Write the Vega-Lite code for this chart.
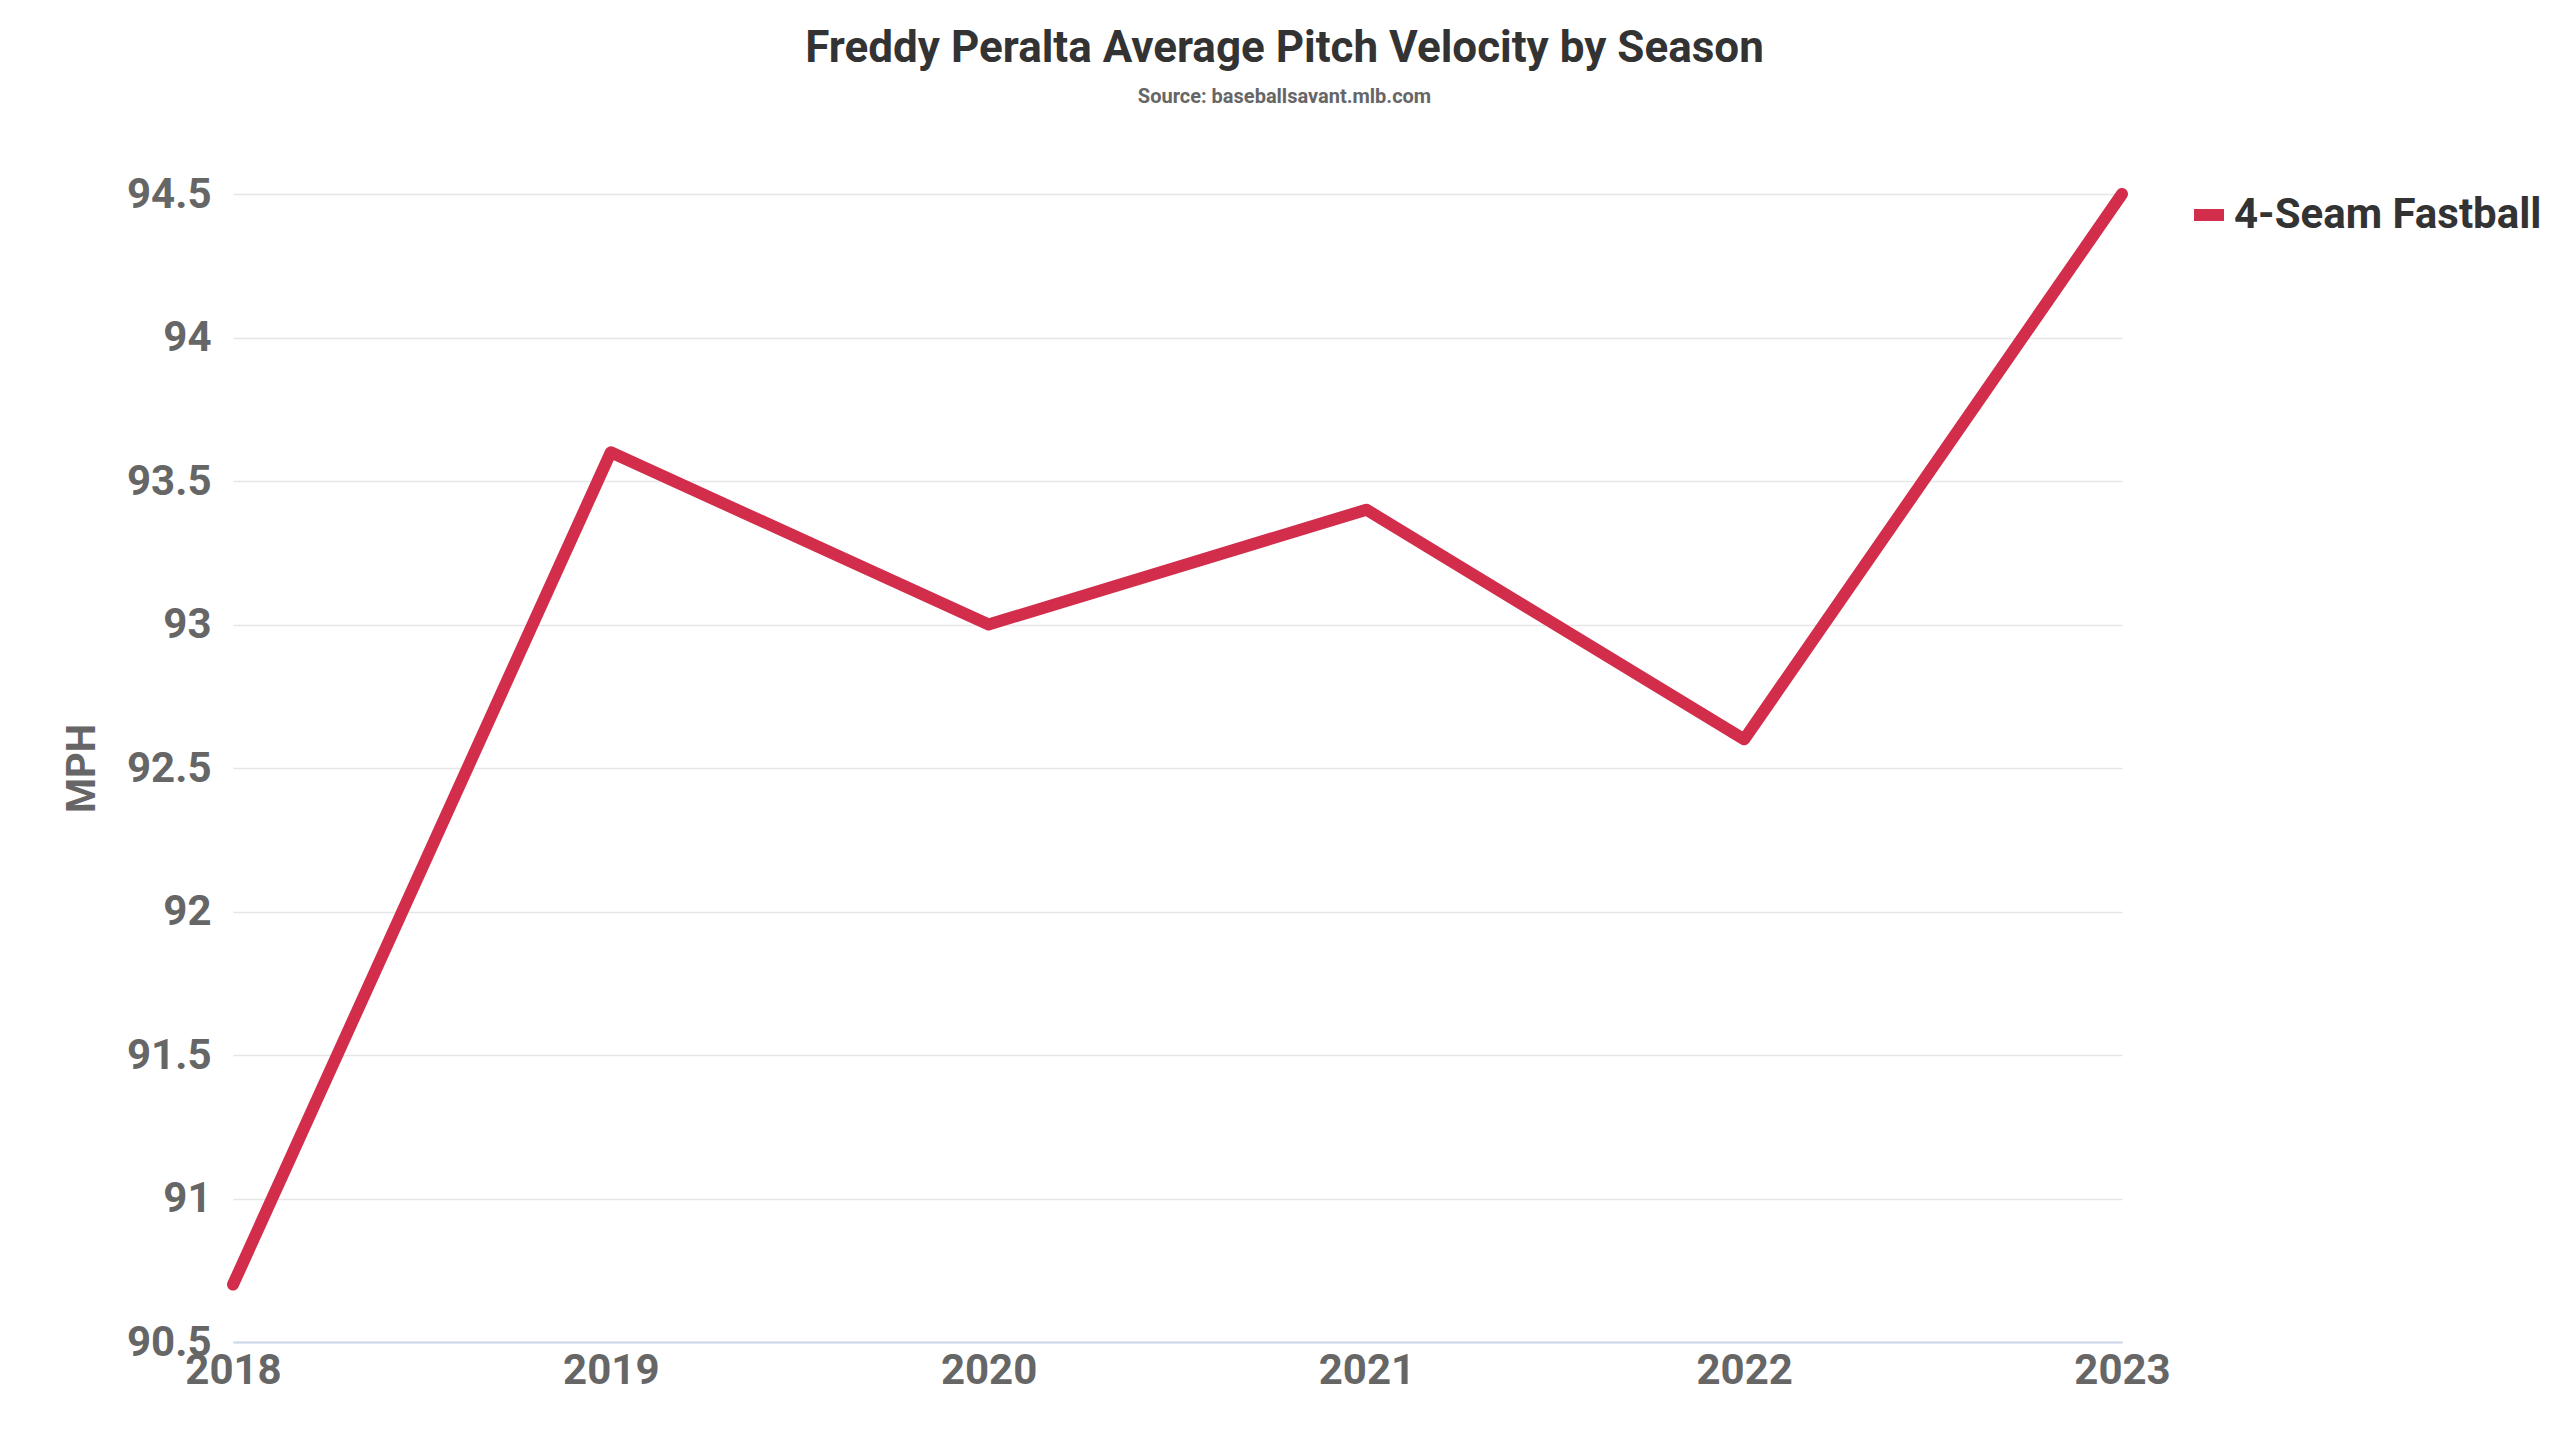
{
  "$schema": "https://vega.github.io/schema/vega-lite/v6.json",
  "autosize": "none",
  "width": 1889,
  "height": 1148,
  "padding": {"left": 233, "top": 194, "right": 438, "bottom": 98},
  "background": "#ffffff",
  "view": {"stroke": null},
  "title": {
    "text": "Freddy Peralta Average Pitch Velocity by Season",
    "subtitle": "Source: baseballsavant.mlb.com",
    "anchor": "middle",
    "dx": 107,
    "offset": 66,
    "font": "Roboto",
    "fontSize": 44,
    "fontWeight": "bold",
    "color": "#333333",
    "subtitleFont": "Roboto",
    "subtitleFontSize": 20,
    "subtitleFontWeight": "bold",
    "subtitleColor": "#666666",
    "subtitlePadding": 16
  },
  "data": {
    "values": [
      {"season": "2018", "pitch": "4-Seam Fastball", "mph": 90.7},
      {"season": "2019", "pitch": "4-Seam Fastball", "mph": 93.6},
      {"season": "2020", "pitch": "4-Seam Fastball", "mph": 93.0},
      {"season": "2021", "pitch": "4-Seam Fastball", "mph": 93.4},
      {"season": "2022", "pitch": "4-Seam Fastball", "mph": 92.6},
      {"season": "2023", "pitch": "4-Seam Fastball", "mph": 94.5}
    ]
  },
  "mark": {"type": "line", "strokeWidth": 12, "strokeCap": "round", "strokeJoin": "round"},
  "encoding": {
    "x": {
      "field": "season",
      "type": "ordinal",
      "scale": {"type": "point", "padding": 0},
      "axis": {
        "title": null,
        "labelAngle": 0,
        "labelFont": "Roboto",
        "labelFontSize": 42,
        "labelFontWeight": "bold",
        "labelColor": "#666666",
        "domainColor": "#ccd6eb",
        "domainWidth": 2,
        "ticks": false,
        "labelPadding": 8
      }
    },
    "y": {
      "field": "mph",
      "type": "quantitative",
      "scale": {"domain": [90.5, 94.5], "zero": false, "nice": false},
      "axis": {
        "title": "MPH",
        "titleFont": "Roboto",
        "titleFontSize": 40,
        "titleFontWeight": "bold",
        "titleColor": "#666666",
        "titlePadding": 24,
        "values": [90.5, 91, 91.5, 92, 92.5, 93, 93.5, 94, 94.5],
        "format": "~g",
        "labelFont": "Roboto",
        "labelFontSize": 42,
        "labelFontWeight": "bold",
        "labelColor": "#666666",
        "labelPadding": 22,
        "domain": false,
        "ticks": false,
        "gridColor": "#e6e6e6",
        "gridWidth": 1.5
      }
    },
    "color": {
      "field": "pitch",
      "type": "nominal",
      "scale": {"range": ["#D22E4C"]},
      "legend": {
        "title": null,
        "orient": "right",
        "offset": 60,
        "symbolType": "stroke",
        "symbolStrokeWidth": 12,
        "symbolSize": 900,
        "labelFont": "Roboto",
        "labelFontSize": 42,
        "labelFontWeight": "bold",
        "labelColor": "#333333",
        "labelLimit": 600
      }
    }
  },
  "config": {"legend": {"padding": 0}}
}
